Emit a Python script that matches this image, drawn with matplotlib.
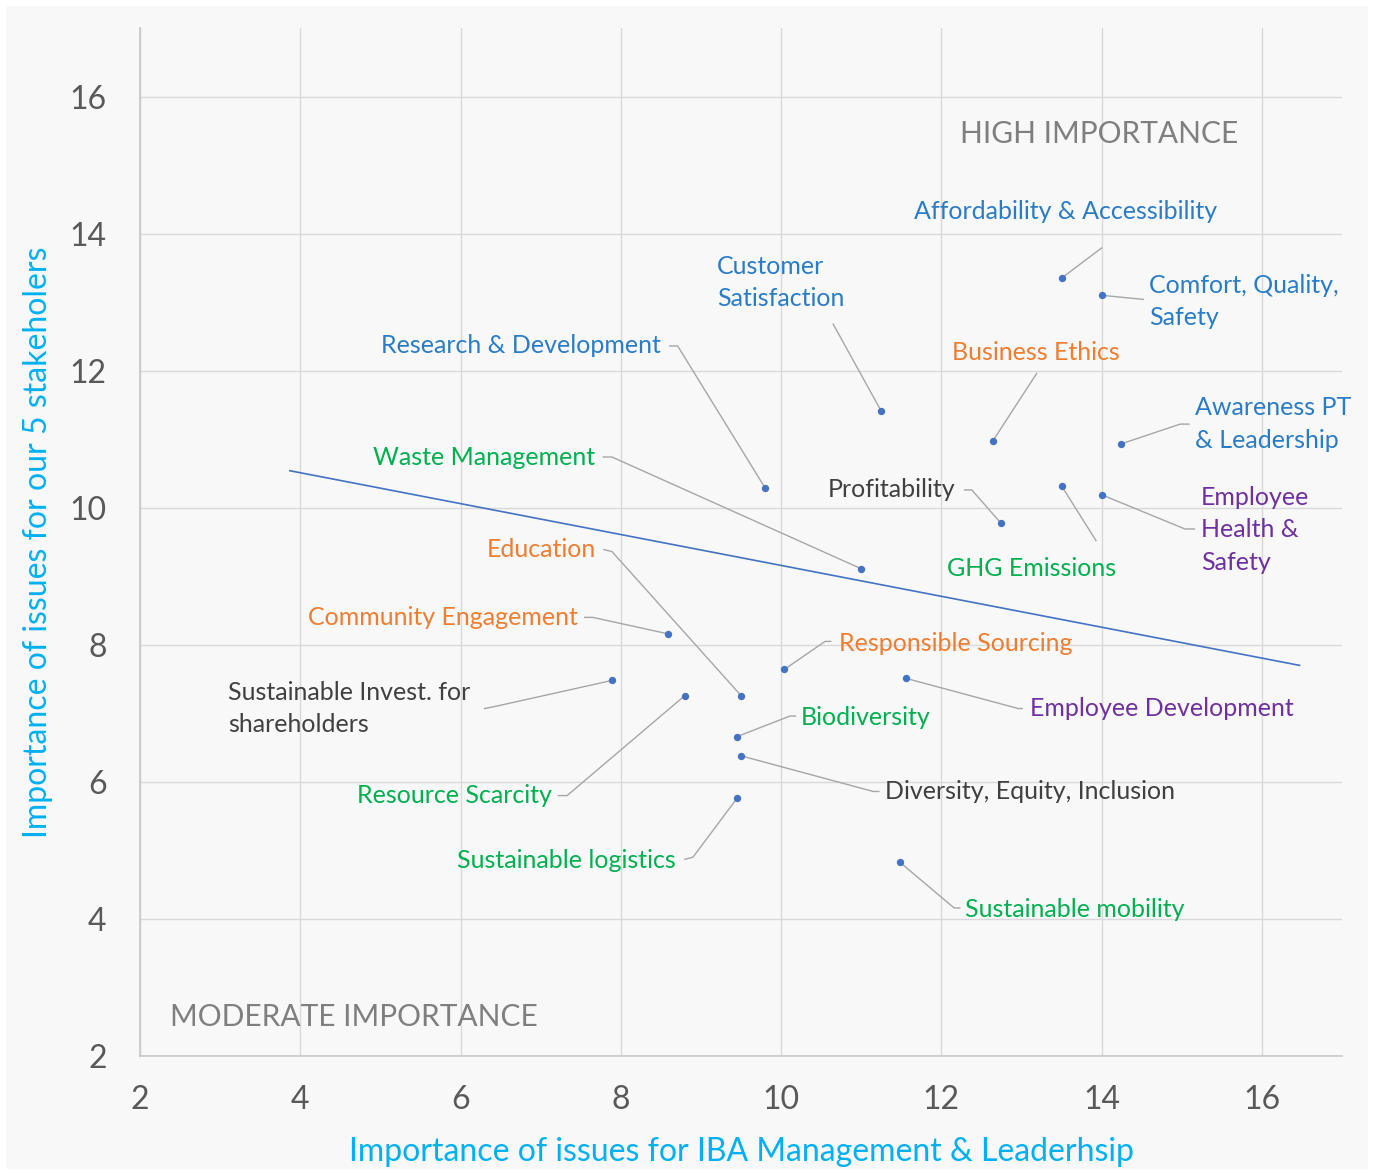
import numpy as np
from matplotlib import pyplot as plt
from matplotlib.patches import Rectangle

# materiality matrix values
issues = ['Affordability & Accessibility', 'Comfort, Quality,\nSafety', 'Customer\nSatisfaction',
          'Business Ethics', 'Awareness PT\n& Leadership', 'Research & Development', 'Profitability',
          'GHG Emissions', 'Employee\nHealth &\nSafety', 'Waste Management', 'Education',
          'Community Engagement', 'Sustainable Invest. for\nshareholders', 'Resource Scarcity',
          'Sustainable logistics', 'Responsible Sourcing', 'Employee Development', 'Biodiversity',
          'Diversity, Equity, Inclusion', 'Sustainable mobility']
management = [13.5, 14.0, 11.25, 12.64, 14.24, 9.8, 12.74, 13.5, 14.0, 11.0, 9.5,
              8.59, 7.89, 8.8, 9.45, 10.04, 11.56, 9.45, 9.5, 11.48]
stakeholders = [13.35, 13.1, 11.41, 10.97, 10.93, 10.29, 9.78, 10.32, 10.19, 9.11, 7.26,
                8.16, 7.48, 7.26, 5.76, 7.64, 7.51, 6.66, 6.38, 4.83]
groups = ['customer', 'customer', 'customer', 'society', 'customer', 'customer', 'economic',
          'environment', 'employee', 'environment', 'society', 'society', 'economic',
          'environment', 'environment', 'society', 'employee', 'environment', 'economic',
          'environment']

# threshold line
trend_x = [3.87, 16.47]
trend_y = [10.54, 7.70]

ticks = [2, 4, 6, 8, 10, 12, 14, 16]

colors = {'customer': '#2A7CC7', 'society': '#ED7D31', 'environment': '#00B050',
          'employee': '#7030A0', 'economic': '#404040'}

# label placement: text anchor, alignment, leader path (label end -> point)
layout = {
    'Affordability & Accessibility': ((13.55, 14.32), 'center', [(14.0, 13.79)]),
    'Comfort, Quality,\nSafety': ((14.59, 13.01), 'left', [(14.52, 13.04)]),
    'Customer\nSatisfaction': ((9.2, 13.29), 'left', [(10.65, 12.68)]),
    'Business Ethics': ((13.18, 12.26), 'center', [(13.19, 11.96)]),
    'Awareness PT\n& Leadership': ((15.16, 11.22), 'left', [(15.09, 11.22), (14.98, 11.22)]),
    'Research & Development': ((8.5, 12.36), 'right', [(8.61, 12.36), (8.71, 12.36)]),
    'Profitability': ((12.18, 10.26), 'right', [(12.29, 10.26), (12.38, 10.26)]),
    'GHG Emissions': ((13.12, 9.11), 'center', [(13.93, 9.52)]),
    'Employee\nHealth &\nSafety': ((15.24, 9.68), 'left', [(15.16, 9.69), (15.04, 9.69)]),
    'Waste Management': ((7.68, 10.74), 'right', [(7.78, 10.74), (7.89, 10.74)]),
    'Education': ((7.69, 9.39), 'right', [(7.79, 9.39), (7.89, 9.36)]),
    'Community Engagement': ((7.47, 8.4), 'right', [(7.55, 8.4), (7.65, 8.4)]),
    'Sustainable Invest. for\nshareholders': ((3.1, 7.07), 'left', [(6.3, 7.07), (6.43, 7.10)]),
    'Resource Scarcity': ((7.14, 5.8), 'right', [(7.22, 5.8), (7.33, 5.8)]),
    'Sustainable logistics': ((8.69, 4.85), 'right', [(8.8, 4.87), (8.9, 4.9)]),
    'Responsible Sourcing': ((10.72, 8.02), 'left', [(10.62, 8.05), (10.55, 8.05)]),
    'Employee Development': ((13.11, 7.07), 'left', [(13.01, 7.07), (12.96, 7.07)]),
    'Biodiversity': ((10.25, 6.94), 'left', [(10.18, 6.96), (10.11, 6.96)]),
    'Diversity, Equity, Inclusion': ((11.3, 5.86), 'left', [(11.22, 5.86), (11.15, 5.86)]),
    'Sustainable mobility': ((12.29, 4.14), 'left', [(12.23, 4.16), (12.16, 4.16)]),
}


def main():
    plt.rcParams['font.family'] = ['Lato', 'DejaVu Sans']
    fig = plt.figure(figsize=(13.75, 11.73), dpi=100, facecolor='white')
    fig.patches.append(Rectangle((6 / 1375, 4 / 1173), 1362 / 1375, 1163 / 1173,
                                 transform=fig.transFigure, facecolor='#F8F8F8',
                                 edgecolor='none', zorder=-10))
    ax = fig.add_axes([140 / 1375, 117 / 1173, 1202 / 1375, 1028 / 1173])
    ax.set_facecolor('none')

    ax.set_xlim(2, 17)
    ax.set_ylim(2, 17)
    ax.set_xticks(ticks)
    ax.set_yticks(ticks)
    ax.grid(True, color='#D9D9D9', linewidth=1.0)
    ax.set_axisbelow(True)
    for s in ['top', 'right']:
        ax.spines[s].set_visible(False)
    for s in ['left', 'bottom']:
        ax.spines[s].set_color('#C8C8C8')
        ax.spines[s].set_linewidth(1.2)
    ax.tick_params(length=0, labelsize=23, labelcolor='#595959')
    ax.tick_params(axis='x', pad=21)
    ax.tick_params(axis='y', pad=24)

    ax.set_xlabel('Importance of issues for IBA Management & Leaderhsip', fontsize=23,
                  color='#00B0F0', labelpad=16)
    ax.set_ylabel('Importance of issues for our 5 stakeholers', fontsize=23,
                  color='#00B0F0', labelpad=12)

    ax.plot(trend_x, trend_y, color='#4472C4', linewidth=1.2, zorder=2)

    for name, x, y, g in zip(issues, management, stakeholders, groups):
        (tx, ty), ha, path = layout[name]
        px = [p[0] for p in path] + [x]
        py = [p[1] for p in path] + [y]
        ax.plot(px, py, color='#A6A6A6', linewidth=1.0, zorder=2)
        ax.text(tx, ty, name, ha=ha, va='center', fontsize=18, color=colors[g],
                linespacing=1.5, zorder=4)

    ax.scatter(management, stakeholders, s=28, color='#4472C4', zorder=3, linewidths=0)

    ax.text(13.97, 15.46, 'HIGH IMPORTANCE', ha='center', va='center', fontsize=21.5,
            color='#7F7F7F')
    ax.text(2.37, 2.57, 'MODERATE IMPORTANCE', ha='left', va='center', fontsize=21.5,
            color='#7F7F7F')

    fig.savefig('out.png', dpi=100, facecolor='white')


if __name__ == '__main__':
    main()
